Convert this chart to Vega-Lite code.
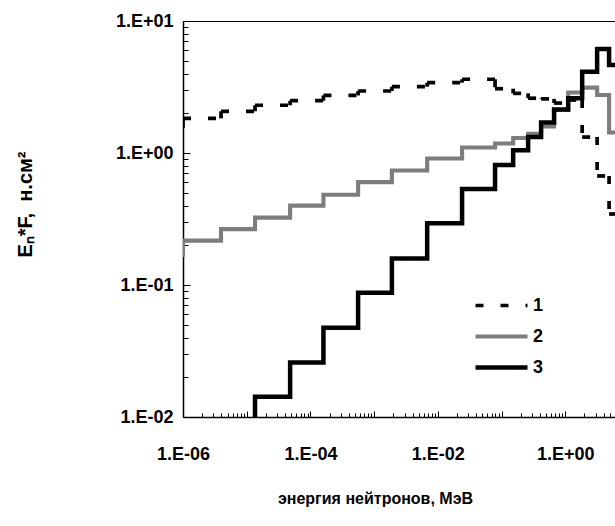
{
  "$schema": "https://vega.github.io/schema/vega-lite/v6.json",
  "width": 446,
  "height": 396,
  "autosize": "none",
  "padding": {"left": 183, "top": 21, "right": 0, "bottom": 109},
  "background": "white",
  "config": {
    "font": "Liberation Sans",
    "view": {"stroke": "black", "strokeWidth": 1},
    "axis": {
      "grid": false,
      "domainColor": "black",
      "domainWidth": 1.5,
      "tickColor": "black",
      "tickWidth": 1,
      "labelColor": "black",
      "labelFont": "Liberation Sans",
      "labelFontSize": 18,
      "labelFontWeight": "bold",
      "labelOverlap": false,
      "labelFlush": false,
      "titleColor": "black",
      "titleFont": "Liberation Sans",
      "titleFontWeight": "bold"
    },
    "legend": {
      "orient": "none",
      "legendX": 290,
      "legendY": 270,
      "padding": 0,
      "symbolType": "stroke",
      "symbolSize": 2704,
      "clipHeight": 29,
      "rowPadding": 2,
      "labelFont": "Liberation Sans",
      "labelFontSize": 18,
      "labelFontWeight": "bold",
      "labelColor": "black",
      "labelOffset": 3,
      "labelBaseline": "middle"
    }
  },
  "datasets": {
    "steps": [
      {"series": "2", "E": 2.9e-7, "F": 0.17},
      {"series": "2", "E": 1e-6, "F": 0.217},
      {"series": "2", "E": 3.95e-6, "F": 0.265},
      {"series": "2", "E": 1.35e-5, "F": 0.324},
      {"series": "2", "E": 4.8e-5, "F": 0.399},
      {"series": "2", "E": 1.6e-4, "F": 0.483},
      {"series": "2", "E": 5.6e-4, "F": 0.602},
      {"series": "2", "E": 1.9e-3, "F": 0.736},
      {"series": "2", "E": 6.8e-3, "F": 0.908},
      {"series": "2", "E": 0.024, "F": 1.10},
      {"series": "2", "E": 0.079, "F": 1.18},
      {"series": "2", "E": 0.152, "F": 1.30},
      {"series": "2", "E": 0.261, "F": 1.40},
      {"series": "2", "E": 0.417, "F": 1.59},
      {"series": "2", "E": 0.667, "F": 2.12},
      {"series": "2", "E": 1.11, "F": 2.87},
      {"series": "2", "E": 1.84, "F": 3.13},
      {"series": "2", "E": 3.16, "F": 2.75},
      {"series": "2", "E": 4.87, "F": 1.43},
      {"series": "2", "E": 10, "F": 1.43},
      {"series": "3", "E": 3.95e-6, "F": 0.005},
      {"series": "3", "E": 1.35e-5, "F": 0.01425},
      {"series": "3", "E": 4.8e-5, "F": 0.0259},
      {"series": "3", "E": 1.6e-4, "F": 0.0475},
      {"series": "3", "E": 5.6e-4, "F": 0.0875},
      {"series": "3", "E": 1.9e-3, "F": 0.159},
      {"series": "3", "E": 6.8e-3, "F": 0.293},
      {"series": "3", "E": 0.024, "F": 0.533},
      {"series": "3", "E": 0.079, "F": 0.811},
      {"series": "3", "E": 0.152, "F": 1.05},
      {"series": "3", "E": 0.261, "F": 1.32},
      {"series": "3", "E": 0.417, "F": 1.70},
      {"series": "3", "E": 0.667, "F": 2.14},
      {"series": "3", "E": 1.11, "F": 2.60},
      {"series": "3", "E": 1.84, "F": 4.13},
      {"series": "3", "E": 3.16, "F": 6.13},
      {"series": "3", "E": 4.87, "F": 4.64},
      {"series": "3", "E": 10, "F": 4.64}
    ],
    "dashed": [
      {"series": "1", "E": 2.9e-7, "F": 1.55},
      {"series": "1", "E": 1e-6, "F": 1.83},
      {"series": "1", "E": 3.95e-6, "F": 2.07},
      {"series": "1", "E": 1.35e-5, "F": 2.30},
      {"series": "1", "E": 4.8e-5, "F": 2.49},
      {"series": "1", "E": 1.6e-4, "F": 2.73},
      {"series": "1", "E": 5.6e-4, "F": 2.95},
      {"series": "1", "E": 1.9e-3, "F": 3.18},
      {"series": "1", "E": 6.8e-3, "F": 3.41},
      {"series": "1", "E": 0.024, "F": 3.62},
      {"series": "1", "E": 0.079, "F": 3.07},
      {"series": "1", "E": 0.152, "F": 2.83},
      {"series": "1", "E": 0.261, "F": 2.60},
      {"series": "1", "E": 0.417, "F": 2.57},
      {"series": "1", "E": 0.667, "F": 2.39},
      {"series": "1", "E": 1.11, "F": 2.52},
      {"series": "1", "E": 1.84, "F": 1.32},
      {"series": "1", "E": 3.16, "F": 0.67},
      {"series": "1", "E": 4.87, "F": 0.345},
      {"series": "1", "E": 10, "F": 0.345}
    ]
  },
  "encoding": {
    "x": {
      "field": "E",
      "type": "quantitative",
      "scale": {"type": "log", "domain": [1e-6, 10], "nice": false},
      "axis": {
        "values": [1e-6, 2e-6, 3e-6, 4e-6, 5e-6, 6e-6, 7e-6, 8e-6, 9e-6,
                   1e-5, 2e-5, 3e-5, 4e-5, 5e-5, 6e-5, 7e-5, 8e-5, 9e-5,
                   1e-4, 2e-4, 3e-4, 4e-4, 5e-4, 6e-4, 7e-4, 8e-4, 9e-4,
                   1e-3, 2e-3, 3e-3, 4e-3, 5e-3, 6e-3, 7e-3, 8e-3, 9e-3,
                   1e-2, 2e-2, 3e-2, 4e-2, 5e-2, 6e-2, 7e-2, 8e-2, 9e-2,
                   0.1, 0.2, 0.3, 0.4, 0.5, 0.6, 0.7, 0.8, 0.9,
                   1, 2, 3, 4, 5, 6, 7, 8, 9, 10],
        "labelExpr": "(abs(log(datum.value)/LN10 - round(log(datum.value)/LN10)) < 1e-6 && round(log(datum.value)/LN10) % 2 == 0) ? ('1.E' + (datum.value >= 1 ? '+' : '-') + format(abs(round(log(datum.value)/LN10)), '02d')) : ''",
        "tickSize": {"condition": {"test": "abs(log(datum.value)/LN10 - round(log(datum.value)/LN10)) < 1e-6", "value": -6}, "value": -4},
        "labelPadding": 34,
        "title": "энергия нейтронов, МэВ",
        "titleFontSize": 16,
        "titleX": 192,
        "titleY": 81,
        "titleAlign": "center",
        "titleBaseline": "middle",
        "titleAnchor": null
      }
    },
    "color": {
      "field": "series",
      "type": "nominal",
      "scale": {"domain": ["1", "2", "3"], "range": ["black", "#7d7d7d", "black"]},
      "legend": {"title": null}
    },
    "strokeDash": {
      "field": "series",
      "type": "nominal",
      "scale": {"domain": ["1", "2", "3"], "range": [[8, 17], [1, 0], [1, 0]]},
      "legend": {"title": null}
    },
    "strokeWidth": {
      "field": "series",
      "type": "nominal",
      "scale": {"domain": ["1", "2", "3"], "range": [3.7, 4.5, 3.2]},
      "legend": {"title": null}
    }
  },
  "layer": [
    {
      "data": {"name": "dashed"},
      "transform": [
        {"window": [{"op": "lead", "field": "E", "as": "E_next"}], "sort": [{"field": "E", "order": "ascending"}]},
        {"filter": "datum.E_next != null"}
      ],
      "mark": {"type": "rule", "clip": true, "strokeCap": "butt"},
      "encoding": {
        "x2": {"field": "E_next"},
        "y": {
          "field": "F",
          "type": "quantitative",
          "scale": {"type": "log", "domain": [0.01, 10], "nice": false},
          "axis": {
            "values": [0.01, 0.02, 0.03, 0.04, 0.05, 0.06, 0.07, 0.08, 0.09,
                       0.1, 0.2, 0.3, 0.4, 0.5, 0.6, 0.7, 0.8, 0.9,
                       1, 2, 3, 4, 5, 6, 7, 8, 9, 10],
            "labelExpr": "abs(log(datum.value)/LN10 - round(log(datum.value)/LN10)) < 1e-6 ? ('1.E' + (datum.value >= 1 ? '+' : '-') + format(abs(round(log(datum.value)/LN10)), '02d')) : ''",
            "tickSize": {"condition": {"test": "abs(log(datum.value)/LN10 - round(log(datum.value)/LN10)) < 1e-6", "value": -7}, "value": -5},
            "labelPadding": 17,
            "labelBaseline": "middle",
            "title": "Eₙ*F,\u00a0\u00a0н.см²",
            "titleFontSize": 20,
            "titleX": -158,
            "titleY": 183,
            "titleAngle": -90,
            "titleAlign": "center",
            "titleBaseline": "middle",
            "titleAnchor": null
          }
        }
      }
    },
    {
      "data": {"name": "dashed"},
      "transform": [
        {"window": [{"op": "lag", "field": "F", "as": "F_prev"}], "sort": [{"field": "E", "order": "ascending"}]},
        {"filter": "datum.F_prev != null"}
      ],
      "mark": {"type": "rule", "clip": true, "strokeCap": "butt"},
      "encoding": {
        "y": {
          "field": "F_prev",
          "type": "quantitative",
          "scale": {"type": "log", "domain": [0.01, 10], "nice": false},
          "axis": {
            "values": [0.01, 0.02, 0.03, 0.04, 0.05, 0.06, 0.07, 0.08, 0.09,
                       0.1, 0.2, 0.3, 0.4, 0.5, 0.6, 0.7, 0.8, 0.9,
                       1, 2, 3, 4, 5, 6, 7, 8, 9, 10],
            "labelExpr": "abs(log(datum.value)/LN10 - round(log(datum.value)/LN10)) < 1e-6 ? ('1.E' + (datum.value >= 1 ? '+' : '-') + format(abs(round(log(datum.value)/LN10)), '02d')) : ''",
            "tickSize": {"condition": {"test": "abs(log(datum.value)/LN10 - round(log(datum.value)/LN10)) < 1e-6", "value": -7}, "value": -5},
            "labelPadding": 17,
            "labelBaseline": "middle",
            "title": "Eₙ*F,\u00a0\u00a0н.см²",
            "titleFontSize": 20,
            "titleX": -158,
            "titleY": 183,
            "titleAngle": -90,
            "titleAlign": "center",
            "titleBaseline": "middle",
            "titleAnchor": null
          }
        },
        "y2": {"field": "F"}
      }
    },
    {
      "data": {"name": "steps"},
      "mark": {"type": "line", "interpolate": "step-after", "clip": true, "strokeJoin": "miter", "strokeCap": "butt"},
      "encoding": {
        "y": {
          "field": "F",
          "type": "quantitative",
          "scale": {"type": "log", "domain": [0.01, 10], "nice": false},
          "axis": {
            "values": [0.01, 0.02, 0.03, 0.04, 0.05, 0.06, 0.07, 0.08, 0.09,
                       0.1, 0.2, 0.3, 0.4, 0.5, 0.6, 0.7, 0.8, 0.9,
                       1, 2, 3, 4, 5, 6, 7, 8, 9, 10],
            "labelExpr": "abs(log(datum.value)/LN10 - round(log(datum.value)/LN10)) < 1e-6 ? ('1.E' + (datum.value >= 1 ? '+' : '-') + format(abs(round(log(datum.value)/LN10)), '02d')) : ''",
            "tickSize": {"condition": {"test": "abs(log(datum.value)/LN10 - round(log(datum.value)/LN10)) < 1e-6", "value": -7}, "value": -5},
            "labelPadding": 17,
            "labelBaseline": "middle",
            "title": "Eₙ*F,\u00a0\u00a0н.см²",
            "titleFontSize": 20,
            "titleX": -158,
            "titleY": 183,
            "titleAngle": -90,
            "titleAlign": "center",
            "titleBaseline": "middle",
            "titleAnchor": null
          }
        }
      }
    }
  ]
}
